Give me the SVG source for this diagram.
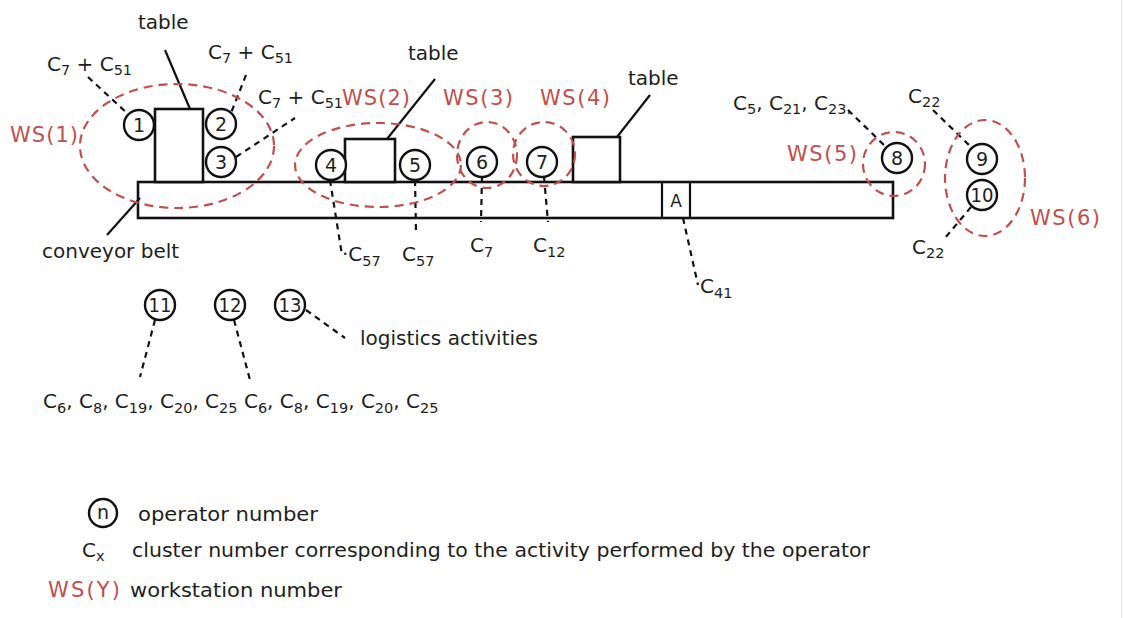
<svg xmlns="http://www.w3.org/2000/svg" width="1123" height="618" viewBox="0 0 1123 618">
<style>
text{font-family:"DejaVu Sans","Liberation Sans",sans-serif;font-size:20px;fill:#1e1e1e}
.sub{font-size:14.5px}
.ws{fill:#c0504d;font-size:21px}
.num{font-size:19px;text-anchor:middle}
.op{fill:#fff;stroke:#111;stroke-width:2.4}
.box{fill:#fff;stroke:#111;stroke-width:2.6}
.ell{fill:none;stroke:#c0504d;stroke-width:2.2;stroke-dasharray:9 6}
.lead{stroke:#111;stroke-width:2.2;fill:none}
.dash{stroke:#111;stroke-width:2.2;stroke-dasharray:6 5;fill:none}
</style>
<rect width="1123" height="618" fill="#fff"/>
<line x1="1121.5" y1="0" x2="1121.5" y2="618" stroke="#e4e4e4" stroke-width="1"/>

<g id="belt">
<rect class="box" x="138" y="182" width="755" height="36"/>
<line class="lead" x1="662" y1="182" x2="662" y2="218"/>
<line class="lead" x1="690" y1="182" x2="690" y2="218"/>
<text x="676" y="207" style="font-size:17px;text-anchor:middle">A</text>
</g>
<g id="table1"><rect class="box" x="155" y="109" width="48" height="73"/></g>
<g id="table2"><rect class="box" x="345" y="139" width="50" height="43"/></g>
<g id="table3"><rect class="box" x="573" y="137" width="47" height="45"/></g>

<g id="connectors">
<line class="lead" x1="190" y1="109" x2="165" y2="50"/>
<line class="lead" x1="387" y1="139" x2="435" y2="79"/>
<line class="lead" x1="617" y1="137" x2="650" y2="95"/>
<line class="lead" x1="140" y1="198" x2="107" y2="235"/>
<line class="dash" x1="88" y1="77" x2="128" y2="114"/>
<line class="dash" x1="246" y1="75" x2="231" y2="113"/>
<line class="dash" x1="236" y1="157" x2="295" y2="118"/>
<line class="dash" x1="330" y1="180" x2="342" y2="255"/>
<line class="dash" x1="415" y1="180" x2="416" y2="232"/>
<line class="dash" x1="482" y1="177" x2="481" y2="222"/>
<line class="dash" x1="544" y1="177" x2="548" y2="222"/>
<line class="dash" x1="683" y1="218" x2="698" y2="285"/>
<line class="dash" x1="848" y1="110" x2="886" y2="147"/>
<line class="dash" x1="933" y1="110" x2="972" y2="148"/>
<line class="dash" x1="971" y1="207" x2="945" y2="238"/>
<line class="dash" x1="155" y1="320" x2="140" y2="377"/>
<line class="dash" x1="234" y1="320" x2="250" y2="380"/>
<line class="dash" x1="306" y1="310" x2="345" y2="338"/>
</g>

<g id="workstations">
<ellipse class="ell" cx="177" cy="146" rx="97" ry="62"/>
<ellipse class="ell" cx="378" cy="165" rx="83" ry="42"/>
<ellipse class="ell" cx="487" cy="155" rx="30" ry="33"/>
<ellipse class="ell" cx="544" cy="154" rx="31" ry="32"/>
<ellipse class="ell" cx="894" cy="164" rx="31" ry="32"/>
<ellipse class="ell" cx="985" cy="178" rx="40" ry="58"/>
<text class="ws" x="10" y="142" textLength="68">WS(1)</text>
<text class="ws" x="342" y="105" textLength="68">WS(2)</text>
<text class="ws" x="443" y="105" textLength="70">WS(3)</text>
<text class="ws" x="540" y="105" textLength="70">WS(4)</text>
<text class="ws" x="787" y="161" textLength="70">WS(5)</text>
<text class="ws" x="1030" y="225" textLength="70">WS(6)</text>
</g>

<g id="op1"><circle class="op" cx="139" cy="125" r="15"/><text class="num" x="139" y="132">1</text></g>
<g id="op2"><circle class="op" cx="221" cy="124" r="15"/><text class="num" x="221" y="131">2</text></g>
<g id="op3"><circle class="op" cx="221" cy="162" r="15"/><text class="num" x="221" y="169">3</text></g>
<g id="op4"><circle class="op" cx="331" cy="165" r="15"/><text class="num" x="331" y="172">4</text></g>
<g id="op5"><circle class="op" cx="415" cy="165" r="15"/><text class="num" x="415" y="172">5</text></g>
<g id="op6"><circle class="op" cx="482" cy="162" r="15"/><text class="num" x="482" y="169">6</text></g>
<g id="op7"><circle class="op" cx="542" cy="162" r="15"/><text class="num" x="542" y="169">7</text></g>
<g id="op8"><circle class="op" cx="897" cy="158" r="15"/><text class="num" x="897" y="165">8</text></g>
<g id="op9"><circle class="op" cx="982" cy="159" r="15"/><text class="num" x="982" y="166">9</text></g>
<g id="op10"><circle class="op" cx="982" cy="195" r="15"/><text class="num" x="982" y="202" textLength="23" lengthAdjust="spacingAndGlyphs">10</text></g>
<g id="op11"><circle class="op" cx="160" cy="305" r="15"/><text class="num" x="160" y="312" textLength="23" lengthAdjust="spacingAndGlyphs">11</text></g>
<g id="op12"><circle class="op" cx="230" cy="305" r="15"/><text class="num" x="230" y="312" textLength="23" lengthAdjust="spacingAndGlyphs">12</text></g>
<g id="op13"><circle class="op" cx="290" cy="305" r="15"/><text class="num" x="290" y="312" textLength="23" lengthAdjust="spacingAndGlyphs">13</text></g>

<g id="labels">
<text x="138" y="29">table</text>
<text x="408" y="60">table</text>
<text x="628" y="85">table</text>
<text x="42" y="258">conveyor belt</text>
<text x="47" y="71">C<tspan class="sub" dy="4">7</tspan><tspan dy="-4"> + C</tspan><tspan class="sub" dy="4">51</tspan></text>
<text x="208" y="59">C<tspan class="sub" dy="4">7</tspan><tspan dy="-4"> + C</tspan><tspan class="sub" dy="4">51</tspan></text>
<text x="258" y="104">C<tspan class="sub" dy="4">7</tspan><tspan dy="-4"> + C</tspan><tspan class="sub" dy="4">51</tspan></text>
<text x="342" y="261">·C<tspan class="sub" dy="5">57</tspan></text>
<text x="402" y="261">C<tspan class="sub" dy="5">57</tspan></text>
<text x="470" y="252">C<tspan class="sub" dy="5">7</tspan></text>
<text x="533" y="252">C<tspan class="sub" dy="5">12</tspan></text>
<text x="700" y="293">C<tspan class="sub" dy="5">41</tspan></text>
<text x="733" y="110">C<tspan class="sub" dy="4">5</tspan><tspan dy="-4">, C</tspan><tspan class="sub" dy="4">21</tspan><tspan dy="-4">, C</tspan><tspan class="sub" dy="4">23.</tspan></text>
<text x="908" y="103">C<tspan class="sub" dy="4">22</tspan></text>
<text x="912" y="254">C<tspan class="sub" dy="4">22</tspan></text>
<text x="360" y="345">logistics activities</text>
<text x="43" y="408">C<tspan class="sub" dy="5">6</tspan><tspan dy="-5">, C</tspan><tspan class="sub" dy="5">8</tspan><tspan dy="-5">, C</tspan><tspan class="sub" dy="5">19</tspan><tspan dy="-5">, C</tspan><tspan class="sub" dy="5">20</tspan><tspan dy="-5">, C</tspan><tspan class="sub" dy="5">25</tspan><tspan dy="-5"> C</tspan><tspan class="sub" dy="5">6</tspan><tspan dy="-5">, C</tspan><tspan class="sub" dy="5">8</tspan><tspan dy="-5">, C</tspan><tspan class="sub" dy="5">19</tspan><tspan dy="-5">, C</tspan><tspan class="sub" dy="5">20</tspan><tspan dy="-5">, C</tspan><tspan class="sub" dy="5">25</tspan></text>
</g>

<g id="legend">
<circle class="op" cx="103" cy="513" r="14"/><text class="num" x="103" y="519">n</text>
<text x="138" y="521" textLength="180" lengthAdjust="spacingAndGlyphs">operator number</text>
<text x="82" y="557">C<tspan class="sub" dy="4">x</tspan></text>
<text x="132" y="557" textLength="738" lengthAdjust="spacingAndGlyphs">cluster number corresponding to the activity performed by the operator</text>
<text class="ws" x="48" y="597" textLength="72">WS(Y)</text>
<text x="130" y="597" textLength="212" lengthAdjust="spacingAndGlyphs">workstation number</text>
</g>
</svg>
